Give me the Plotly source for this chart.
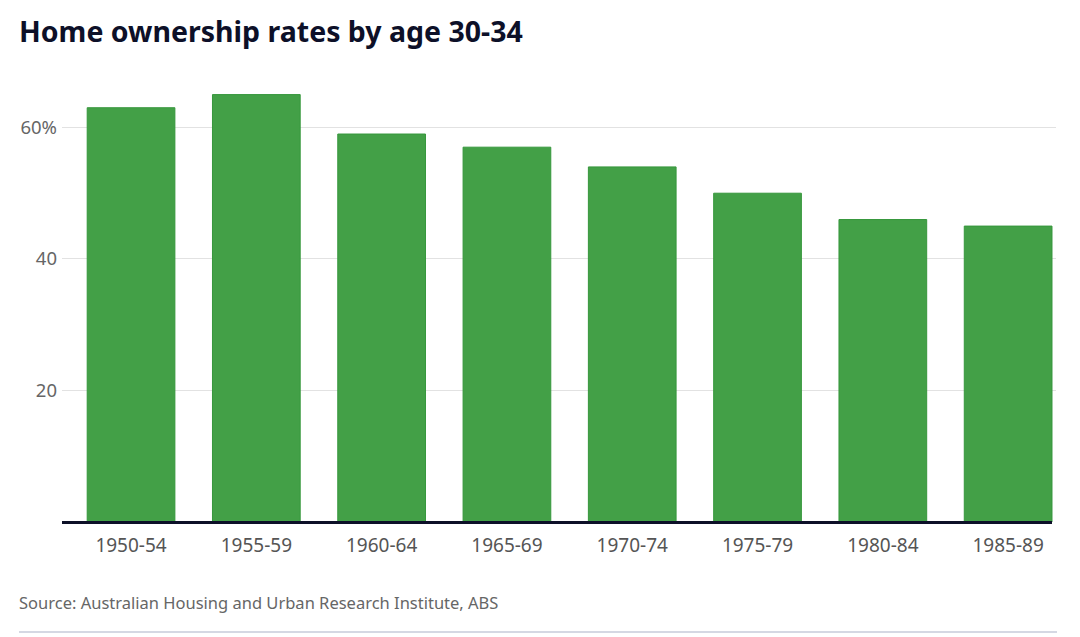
import plotly.graph_objects as go

categories = ["1950-54", "1955-59", "1960-64", "1965-69", "1970-74", "1975-79", "1980-84", "1985-89"]
rates = [63, 65, 59, 57, 54, 50, 46, 45]
ytick_vals = [20, 40, 60]
ytick_text = ["20", "40", "60%"]

W, H = 1080, 637
L, R = 62, 1056
T, B = 88, 522

fig = go.Figure(go.Bar(
    x=list(range(len(categories))), y=rates,
    width=0.7,
    marker=dict(color="#43a047", line=dict(color="#36973c", width=1)),
    hoverinfo="x+y",
))

fig.update_layout(
    width=W, height=H,
    margin=dict(l=L, r=W - R, t=T, b=H - B),
    paper_bgcolor="white", plot_bgcolor="white",
    font=dict(family="Noto Sans, Open Sans, sans-serif", color="#555"),
    showlegend=False,
    xaxis=dict(
        range=[-0.551, 7.382],
        tickvals=list(range(len(categories))), ticktext=categories,
        tickfont=dict(size=19, color="#555"),
        showgrid=False, zeroline=False, showline=False, ticks="",
        ticklabelstandoff=10,
    ),
    yaxis=dict(
        range=[0, 66],
        tickvals=ytick_vals, ticktext=ytick_text,
        tickfont=dict(size=18.5, color="#666"),
        showgrid=True, gridcolor="#e2e2e2", gridwidth=1,
        zeroline=False, showline=False, ticks="",
        ticklabelstandoff=4,
    ),
    annotations=[
        dict(text="<b>Home ownership rates by age 30-34</b>", xref="paper", yref="paper",
             x=(17 - L) / (R - L), y=1 + (T - 31) / (B - T), xanchor="left", yanchor="middle",
             showarrow=False, font=dict(size=28.5, color="#0d1028")),
        dict(text="Source: Australian Housing and Urban Research Institute, ABS", xref="paper", yref="paper",
             x=(17 - L) / (R - L), y=-(602 - B) / (B - T), xanchor="left", yanchor="middle",
             showarrow=False, font=dict(size=16.5, color="#666")),
    ],
    shapes=[
        dict(type="line", xref="paper", yref="paper", x0=0, x1=(1052 - L) / (R - L),
             y0=-0.5 / (B - T), y1=-0.5 / (B - T),
             line=dict(color="#0d1028", width=3)),
        dict(type="line", xref="paper", yref="paper", x0=(19 - L) / (R - L), x1=(1057 - L) / (R - L),
             y0=-(632 - B) / (B - T), y1=-(632 - B) / (B - T),
             line=dict(color="#d5d8e3", width=2)),
    ],
)

fig.write_html("out.html", config={"displayModeBar": False},
               post_script="document.body.style.margin='0';document.body.style.overflow='hidden';")
